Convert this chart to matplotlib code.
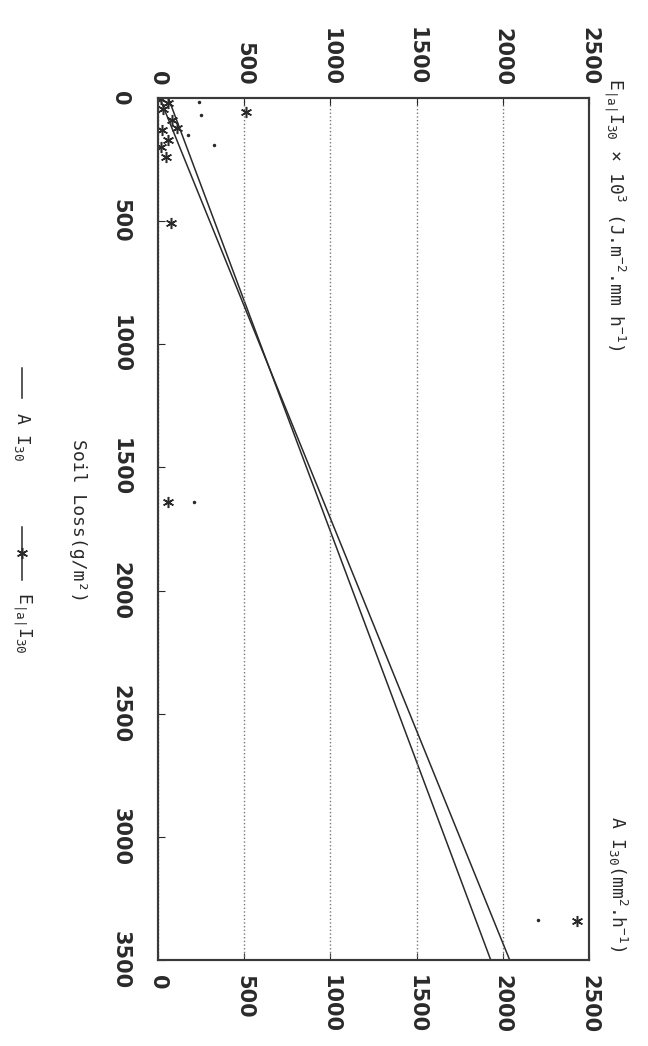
import matplotlib
matplotlib.use("Agg")
import matplotlib.pyplot as plt
from matplotlib.lines import Line2D

# Soil loss (g/m2) against erosivity indices; chart is printed rotated 90 deg clockwise
soil_loss_e = [5, 20, 45, 90, 120, 130, 170, 200, 240, 57, 507, 1640, 3342]
e_index = [15, 60, 30, 80, 110, 25, 60, 20, 45, 512, 75, 58, 2430]

soil_loss_a = [16, 69, 150, 191, 1640, 3338]
a_index = [238, 250, 174, 326, 210, 2203]

# regression lines (end points)
fit_soil_loss = [0, 3500]
fit_e = [10, 2040]
fit_a = [60, 1930]

soil_ticks = [0, 500, 1000, 1500, 2000, 2500, 3000, 3500]
index_ticks = [0, 500, 1000, 1500, 2000, 2500]

W, H = 648, 1046
INK = "#2a2a2a"
STAR = (6, 2, 0)  # thin six-armed asterisk

plt.rcParams["mathtext.fontset"] = "custom"
plt.rcParams["mathtext.rm"] = "DejaVu Sans Mono"
plt.rcParams["mathtext.it"] = "DejaVu Sans Mono"
plt.rcParams["mathtext.default"] = "rm"


def fx(px):
    return px / W


def fy(py):
    return 1 - py / H


fig = plt.figure(figsize=(W / 100, H / 100), dpi=100)
fig.patch.set_facecolor("white")

ax = fig.add_axes([fx(158), fy(960), fx(589) - fx(158), fy(98) - fy(960)])
ax_e = ax.twiny()

# A I30 on the bottom axis, E I30 on the top axis
ax.plot(fit_a, fit_soil_loss, color=INK, lw=1.1)
ax.plot(a_index, soil_loss_a, ".", color=INK, ms=3)
ax_e.plot(fit_e, fit_soil_loss, color=INK, lw=1.1)
ax_e.plot(e_index, soil_loss_e, ls="none", marker=STAR, color=INK, ms=8, mew=1.1)

for axis in (ax, ax_e):
    axis.set_xlim(0, 2500)
    axis.set_xticks(index_ticks)
    for spine in axis.spines.values():
        spine.set_color("#3a3a3a")
        spine.set_linewidth(1.5)

ax.set_ylim(3500, 0)
ax.set_yticks(soil_ticks)

ax_e.grid(axis="x", linestyle=":", color="#777777", lw=1.0)

tick_font = dict(fontsize=15, fontweight="bold", color=INK)
ax.tick_params(axis="x", direction="in", length=5, pad=11, colors=INK)
ax.tick_params(axis="y", direction="in", length=5, pad=20, colors=INK)
ax_e.tick_params(axis="x", direction="in", length=5, pad=9, colors=INK)

ax.set_xticklabels([str(v) for v in index_ticks], rotation=-90, **tick_font)
ax.set_yticklabels([str(v) for v in soil_ticks], rotation=-90, va="center", **tick_font)
ax_e.set_xticklabels([str(v) for v in index_ticks], rotation=-90, **tick_font)

label_font = dict(family="DejaVu Sans Mono", fontsize=13, color=INK, rotation=-90)

fig.text(fx(78), fy(521), "Soil Loss(g/m²)", ha="center", va="center", **label_font)
fig.text(fx(615), fy(78), r"E$_{|a|}$I$_{30}$ × 10$^3$ (J.m$^{-2}$.mm h$^{-1}$)",
         ha="center", va="top", **label_font)
fig.text(fx(618), fy(952), r"A I$_{30}$(mm$^2$.h$^{-1}$)", ha="center", va="bottom", **label_font)

# rotated legend, drawn by hand
fig.add_artist(Line2D([fx(22), fx(22)], [fy(368), fy(398)], color=INK, lw=1.1,
                      transform=fig.transFigure))
fig.text(fx(22), fy(412), r"A I$_{30}$", ha="center", va="top", **label_font)
fig.add_artist(Line2D([fx(22), fx(22)], [fy(527), fy(580)], color=INK, lw=1.1,
                      transform=fig.transFigure))
fig.add_artist(Line2D([fx(22)], [fy(553)], color=INK, marker=STAR, ms=8, mew=1.1,
                      transform=fig.transFigure))
fig.text(fx(22), fy(592), r"E$_{|a|}$I$_{30}$", ha="center", va="top", **label_font)

fig.savefig("out.png", dpi=100)
plt.close(fig)
